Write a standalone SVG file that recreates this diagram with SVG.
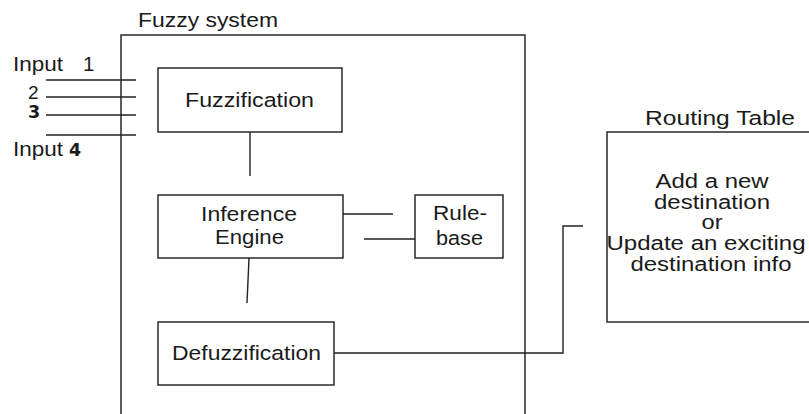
<svg xmlns="http://www.w3.org/2000/svg" width="809" height="414" viewBox="0 0 809 414">
<style>
text{font-family:"Liberation Sans",Arial,sans-serif;font-size:20.5px;fill:#1a1a1a}
.c{text-anchor:middle}
.rt{font-size:19.5px}
.box{fill:none;stroke:#2a2a2a;stroke-width:1.5}
.ln{fill:none;stroke:#222;stroke-width:1.4}
.n{font-size:19px}
.num{font-family:"DejaVu Sans","Liberation Sans",sans-serif;font-weight:bold;font-size:17.5px}
</style>
<rect width="809" height="414" fill="#fff"/>
<g id="fuzzy-system">
<path class="box" d="M121,414 V35 H525 V414"/>
<text x="138" y="27" textLength="140" lengthAdjust="spacingAndGlyphs">Fuzzy system</text>
</g>
<g id="inputs">
<text x="13" y="71" textLength="50" lengthAdjust="spacingAndGlyphs">Input</text>
<text x="83" y="71">1</text>
<text x="28" y="99" class="n">2</text>
<text x="28" y="118" class="num">3</text>
<text x="13" y="156" textLength="50" lengthAdjust="spacingAndGlyphs">Input</text>
<text x="69" y="156" class="num">4</text>
</g>
<g id="fuzzification">
<rect class="box" x="158" y="68" width="184" height="64"/>
<text class="c" x="249.5" y="107" textLength="129" lengthAdjust="spacingAndGlyphs">Fuzzification</text>
</g>
<g id="inference-engine">
<rect class="box" x="158" y="195" width="185" height="63"/>
<text class="c" x="249" y="221" textLength="96" lengthAdjust="spacingAndGlyphs">Inference</text>
<text class="c" x="249.5" y="244" textLength="69" lengthAdjust="spacingAndGlyphs">Engine</text>
</g>
<g id="rule-base">
<rect class="box" x="415" y="195" width="88" height="63"/>
<text class="c" x="460" y="220" textLength="54" lengthAdjust="spacingAndGlyphs">Rule-</text>
<text class="c" x="459.5" y="245" textLength="47" lengthAdjust="spacingAndGlyphs">base</text>
</g>
<g id="defuzzification">
<rect class="box" x="158" y="322" width="176" height="63"/>
<text class="c" x="246.5" y="360" textLength="149" lengthAdjust="spacingAndGlyphs">Defuzzification</text>
</g>
<g id="routing-table">
<rect class="box" x="607" y="132" width="206" height="190"/>
<text class="c" x="720" y="125" textLength="150" lengthAdjust="spacingAndGlyphs">Routing Table</text>
<text class="c rt" x="712" y="188" textLength="113" lengthAdjust="spacingAndGlyphs">Add a new</text>
<text class="c rt" x="712" y="209" textLength="116" lengthAdjust="spacingAndGlyphs">destination</text>
<text class="c rt" x="712" y="229" textLength="21" lengthAdjust="spacingAndGlyphs">or</text>
<text class="c rt" x="706" y="250" textLength="199" lengthAdjust="spacingAndGlyphs">Update an exciting</text>
<text class="c rt" x="711" y="271" textLength="161" lengthAdjust="spacingAndGlyphs">destination info</text>
</g>
<g id="connectors">
<line class="ln" x1="46" y1="80" x2="136" y2="80"/>
<line class="ln" x1="46" y1="97" x2="136" y2="97"/>
<line class="ln" x1="46" y1="115" x2="136" y2="115"/>
<line class="ln" x1="46" y1="135" x2="136" y2="135"/>
<line class="ln" x1="250" y1="132" x2="250" y2="176"/>
<line class="ln" x1="343" y1="214" x2="393" y2="214"/>
<line class="ln" x1="364" y1="239" x2="415" y2="239"/>
<line class="ln" x1="249" y1="258" x2="247" y2="303"/>
<path class="ln" d="M334,353 H563 V226 H583"/>
</g>
</svg>
